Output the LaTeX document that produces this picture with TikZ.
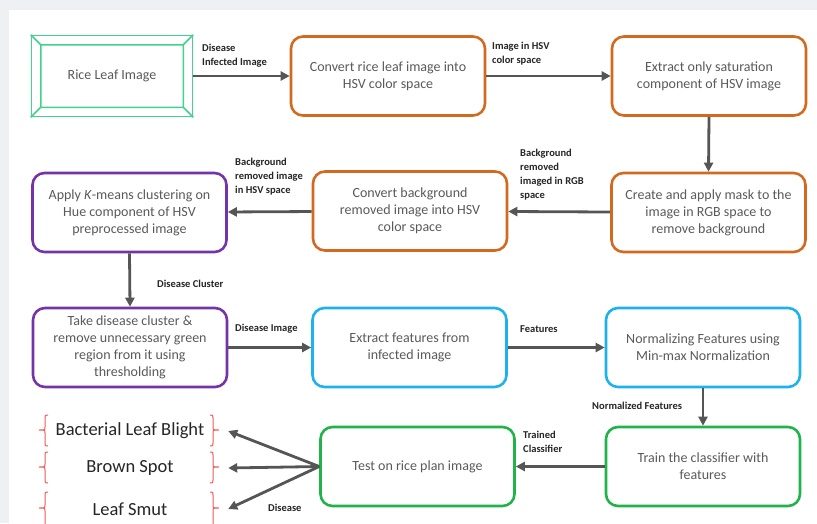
\documentclass[tikz,border=0pt]{standalone}
\usepackage{fontspec}
\setmainfont{Carlito}
\usetikzlibrary{arrows.meta,calc}
\definecolor{pagegray}{HTML}{EEF0F3}
\definecolor{leafgreen}{HTML}{3FD38B}
\definecolor{stageorange}{HTML}{D2691E}
\definecolor{stagepurple}{HTML}{7434A8}
\definecolor{stageblue}{HTML}{1CB2EE}
\definecolor{stagegreen}{HTML}{20B34A}
\definecolor{flowgray}{HTML}{555555}
\definecolor{boxtext}{HTML}{5A5A5A}
\definecolor{labeltext}{HTML}{262626}
\definecolor{bracered}{HTML}{F05A5A}
\begin{document}
\begin{tikzpicture}[x=1pt,y=-1pt,
  stage/.style={draw=#1, rounded corners=12pt, line width=2.6pt, fill=white,
    minimum width=194pt, minimum height=79pt, align=center, text=boxtext,
    font=\fontsize{14}{17}\selectfont, inner sep=2pt},
  flow/.style={line width=2.8pt, draw=flowgray, -{Triangle[length=9pt,width=9pt]}},
  note/.style={anchor=west, align=left, text=labeltext, inner sep=0pt,
    font=\fontsize{10.5}{14}\selectfont\bfseries},
  outcome/.style={minimum width=196pt, minimum height=30pt, inner sep=0pt,
    text=labeltext, font=\fontsize{18.5}{20}\selectfont},
  bracketline/.style={draw=bracered, line width=1pt}]
% page background
\fill[pagegray] (0,0) rectangle (817,523);
\fill[white] (9,10) rectangle (817,523);
\useasboundingbox (0,0) rectangle (817,523);

% input image, drawn as a bevelled frame
\node[draw=leafgreen, line width=1.5pt, minimum width=161pt, minimum height=81pt,
  text=boxtext, font=\fontsize{14}{17}\selectfont] (rice) at (112,76) {Rice Leaf Image};
\draw[leafgreen, line width=1.5pt]
  ($(rice.north west)+(10,10)$) rectangle ($(rice.south east)+(-10,-10)$)
  (rice.north west) -- ++(10,10)
  (rice.north east) -- ++(-10,10)
  (rice.south west) -- ++(10,-10)
  (rice.south east) -- ++(-10,-10);

% processing stages
\node[stage=stageorange] (hsv)  at (388,76)    {Convert rice leaf image into\\HSV color space};
\node[stage=stageorange] (sat)  at (709,76)    {Extract only saturation\\component of HSV image};
\node[stage=stageorange] (mask) at (708.5,212.5) {Create and apply mask to the\\image in RGB space to\\remove background};
\node[stage=stageorange] (cbg)  at (410,211)   {Convert background\\removed image into HSV\\color space};
\node[stage=stagepurple] (km)   at (129.5,212.5) {Apply \textit{K}-means clustering on\\Hue component of HSV\\preprocessed image};
\node[stage=stagepurple] (take) at (130,347.5) {Take disease cluster \&\\remove unnecessary green\\region from it using\\thresholding};
\node[stage=stageblue]   (feat) at (409.5,347.5) {Extract features from\\infected image};
\node[stage=stageblue]   (norm) at (703,347.5) {Normalizing Features using\\Min-max Normalization};
\node[stage=stagegreen]  (train) at (703,466.5) {Train the classifier with\\features};
\node[stage=stagegreen]  (test) at (417.5,466.5) {Test on rice plan image};

% disease classes
\node[outcome] (blb) at (130,431) {Bacterial Leaf Blight};
\node[outcome] (bs)  at (130,468) {Brown Spot};
\node[outcome] (ls)  at (130,509) {Leaf Smut};

% brackets around each class: left "{" and right "}"
\foreach \t/\m/\b in {415/430/446, 452/467/483, 492/508/528}{
  \draw[bracketline] (48,\t) .. controls (45,\t) .. (45,\t+3) -- (45,\m-3)
    .. controls (45,\m) .. (39,\m) .. controls (45,\m) .. (45,\m+3)
    -- (45,\b-3) .. controls (45,\b) .. (48,\b);
  \draw[bracketline] (210,\t) .. controls (213,\t) .. (213,\t+3) -- (213,\m-3)
    .. controls (213,\m) .. (219,\m) .. controls (213,\m) .. (213,\m+3)
    -- (213,\b-3) .. controls (213,\b) .. (210,\b);
}

% connectors
\draw[flow] (rice) -- (hsv);
\draw[flow] (hsv) -- (sat);
\draw[flow] (sat.south) -- (mask.north);
\draw[flow] (mask) -- (cbg);
\draw[flow] (cbg) -- (km);
\draw[flow] (km.south) -- (take.north);
\draw[flow] (take) -- (feat);
\draw[flow] (feat) -- (norm);
\draw[flow] (norm.south) -- (train.north);
\draw[flow] (train) -- (test);
\draw[flow] (test.west) -- (blb.east);
\draw[flow] (test.west) -- (bs.east);
\draw[flow] (test.west) -- (ls.east);

% connector labels
\node[note] (l1) at (202,56)  {Disease\\Infected Image};
\node[note] (l2) at (492,54)  {Image in HSV\\color space};
\node[note] (l3) at (520,175) {Background\\removed\\imaged in RGB\\space};
\node[note] (l4) at (235,177) {Background\\removed image\\in HSV space};
\node[note] (l5) at (157,284) {Disease Cluster};
\node[note] (l6) at (235,329) {Disease Image};
\node[note] (l7) at (520,329) {Features};
\node[note] (l8) at (592,406) {Normalized Features};
\node[note] (l9) at (523,442) {Trained\\Classifier};
\node[note] (l10) at (268,508) {Disease};
\end{tikzpicture}
\end{document}
